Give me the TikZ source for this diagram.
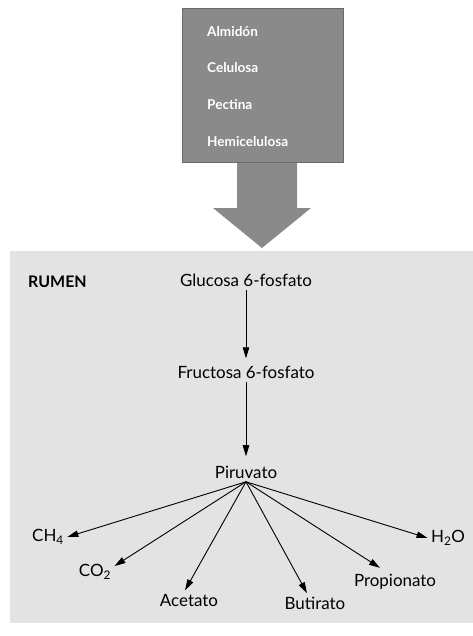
\documentclass[tikz,border=0pt]{standalone}
\usepackage{fontspec}
\setmainfont{Lato}
\usepackage{xcolor}
\usetikzlibrary{arrows.meta}

\definecolor{boxgray}{HTML}{8A8A8A}
\definecolor{boxedge}{HTML}{6A6A6A}
\definecolor{rumengray}{HTML}{E3E3E3}

\begin{document}
\begin{tikzpicture}[>={Triangle[length=11bp,width=6.5bp]},
	font=\fontsize{17}{19}\selectfont,
	src/.style={anchor=west,inner sep=0bp,text=white,font=\fontsize{13.6}{15}\selectfont\bfseries},
	flow/.style={->,line width=0.9bp}]
	\useasboundingbox (0bp,0bp) rectangle (473bp,-636bp);

	% rumen area and the incoming polysaccharides
	\fill [rumengray] (10bp,-251bp) rectangle (473bp,-623bp);
	\fill [boxgray] (237bp,-160bp) -- (297bp,-160bp) -- (297bp,-208bp) -- (311bp,-208bp)
		-- (262bp,-248bp) -- (213bp,-208bp) -- (237bp,-208bp) -- cycle;
	\draw [boxedge,fill=boxgray] (182bp,-8bp) rectangle (343bp,-162bp);

	\node (alm) at (207bp,-32bp)  [src] {Almidón};
	\node (cel) at (207bp,-68bp)  [src] {Celulosa};
	\node (pec) at (207bp,-105bp) [src] {Pectina};
	\node (hem) at (207bp,-142bp) [src] {Hemicelulosa};

	\node (rumen) at (28bp,-282bp) [anchor=west,inner sep=0bp,font=\fontsize{16}{18}\selectfont\bfseries] {RUMEN};

	\node (g6p)  at (246bp,-280bp) {Glucosa 6-fosfato};
	\node (f6p)  at (246bp,-372bp) {Fructosa 6-fosfato};
	\node (piru) at (246bp,-472bp) {Piruvato};

	\node (ch4)  at (48bp,-537bp)  {CH\textsubscript{4}};
	\node (co2)  at (95bp,-572bp)  {CO\textsubscript{2}};
	\node (acet) at (189bp,-600bp) {Acetato};
	\node (buti) at (315bp,-603bp) {Butirato};
	\node (prop) at (395bp,-582bp) {Propionato};
	\node (h2o)  at (448bp,-538bp) {H\textsubscript{2}O};

	\draw [flow,shorten >=4bp] (g6p) -- (f6p);
	\draw [flow,shorten >=6bp] (f6p) -- (piru);

	\draw [flow] (piru.south) -- (ch4.east);
	\draw [flow] (piru.south) -- ([yshift=-5bp]co2.north east);
	\draw [flow] (piru.south) -- ([xshift=-4bp]acet.north);
	\draw [flow] (piru.south) -- ([xshift=-8bp]buti.north);
	\draw [flow] (piru.south) -- ([xshift=-15bp,yshift=3bp]prop.north);
	\draw [flow] (piru.south) -- (h2o.west);
\end{tikzpicture}
\end{document}
